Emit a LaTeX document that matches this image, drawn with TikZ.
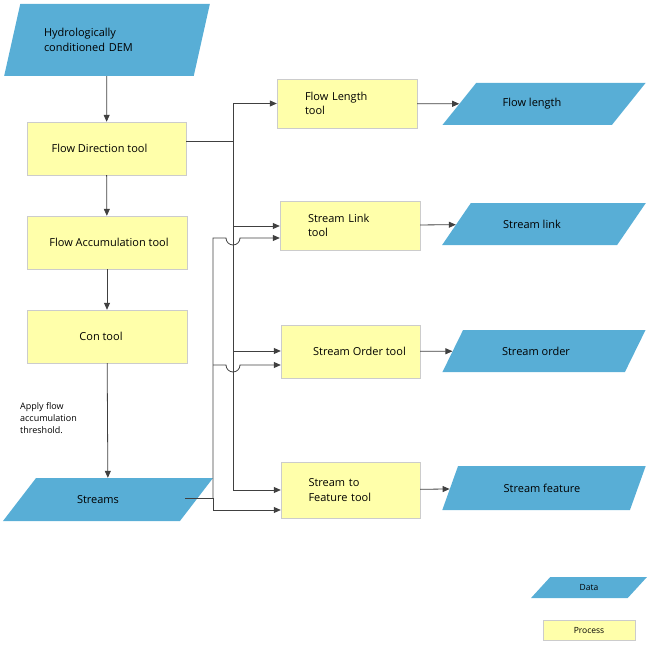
\documentclass[tikz,border=0pt]{standalone}
\usepackage{fontspec}
\setmainfont{Open Sans}
\usetikzlibrary{shapes.geometric,arrows.meta}
\definecolor{datablue}{HTML}{58AED6}
\definecolor{procyellow}{HTML}{FFFFAA}
\begin{document}
\begin{tikzpicture}[x=1pt,y=-1pt,font=\fontsize{11}{14.5}\selectfont,
proc/.style={
% The shape:
rectangle,
draw=black!20,
fill=procyellow,
inner sep=0pt
},
data/.style={
trapezium,trapezium stretches=true,
trapezium left angle=#1,trapezium right angle=180-#1,
fill=datablue,draw=none,inner sep=0pt
},
flow/.style={-{Triangle[length=7pt,width=6pt]},draw=black!75,thick}
]
\useasboundingbox (0,0) rectangle (648,650);
% Main column:
\node (dem) [data=63,minimum width=206,minimum height=72,text width=126,align=left] at (107,40) {Hydrologically\\conditioned DEM};
\node (fdir) [proc,minimum width=159,minimum height=53] at (106.5,148.5) {\hspace*{-14pt}Flow Direction tool};
\node (facc) [proc,minimum width=160,minimum height=53] at (107,242.5) {\hspace*{4pt}Flow Accumulation tool};
\node (con) [proc,minimum width=160,minimum height=53] at (107,336.5) {\hspace*{-12pt}Con tool};
\node (thresh) [align=left,font=\fontsize{9}{12}\selectfont,anchor=north west,inner sep=0pt] at (20,402) {Apply flow\\accumulation\\threshold.};
\node (streams) [data=58,minimum width=210,minimum height=43] at (108,499.5) {\hspace*{-20pt}Streams};
% Tools:
\node (flen) [proc,minimum width=140,minimum height=49,text width=84,align=left] at (347,103.5) {Flow Length\\tool};
\node (slink) [proc,minimum width=140,minimum height=49,text width=84,align=left] at (350,225.5) {Stream Link\\tool};
\node (sorder) [proc,minimum width=139,minimum height=53] at (350.5,351.5) {\hspace*{18pt}Stream Order tool};
\node (sfeat) [proc,minimum width=139,minimum height=56,text width=84,align=left] at (350.5,490) {Stream to\\Feature tool};
% Outputs:
\node (olen) [data=52,minimum width=204,minimum height=42] at (544,104) {\hspace*{-24pt}Flow length};
\node (olink) [data=52,minimum width=204,minimum height=42] at (544,224) {\hspace*{-24pt}Stream link};
\node (oorder) [data=52,minimum width=204,minimum height=42] at (544,351) {\hspace*{-16pt}Stream order};
\node (ofeat) [data=52,minimum width=204,minimum height=44] at (544,488) {\hspace*{-4pt}Stream feature};
% Legend:
\node (ldata) [data=53,minimum width=116,minimum height=21,font=\fontsize{8.5}{10}\selectfont] at (589,587.5) {Data};
\node (lproc) [proc,minimum width=92,minimum height=20,font=\fontsize{8.5}{10}\selectfont] at (589,630) {Process};
\coordinate (trunk) at (233,141);
\coordinate (sbus) at (213,498);
\draw[flow] (dem) -- (fdir);
\draw[flow] (fdir) -- (facc);
\draw[flow] (facc) -- (con);
\draw[flow] (con) -- (streams);
\draw[flow] (fdir.east |- trunk) -- (trunk) |- (flen.west);
\draw[flow] (trunk) |- (sfeat.west |- 0,490);
\draw[flow] (trunk) |- (slink.west |- 0,226);
\draw[flow] (trunk) |- (sorder.west |- 0,351);
\draw[flow] (185,498) -- (sbus) |- (sfeat.west |- 0,510);
\draw[flow] (sbus) -- (213,238) -- (226,238) arc (180:0:7) -- (slink.west |- 0,238);
\draw[flow] (213,365) -- (226,365) arc (180:0:7) -- (sorder.west |- 0,365);
\draw[flow] (flen) -- (olen);
\draw[flow] (slink) -- (olink);
\draw[flow] (sorder) -- (oorder);
\draw[flow] (sfeat) -- (ofeat);
\end{tikzpicture}
\end{document}
